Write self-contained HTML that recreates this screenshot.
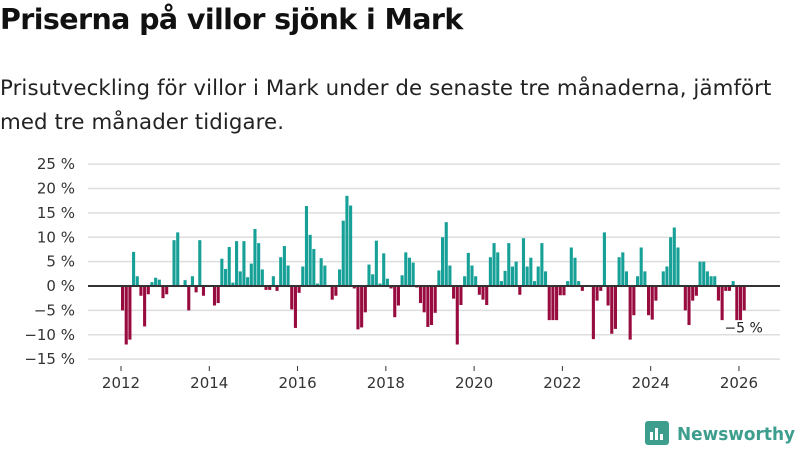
<!DOCTYPE html>
<html><head><meta charset="utf-8"><style>
body{margin:0;width:800px;height:450px;background:#fff;font-family:"Liberation Sans","DejaVu Sans",sans-serif;overflow:hidden;position:relative}
h1{position:absolute;left:0;top:3px;margin:0;font-size:28.5px;font-weight:bold;color:#111;font-family:"DejaVu Sans",sans-serif;letter-spacing:-0.6px}
p{position:absolute;left:0;top:72px;margin:0;font-size:21.3px;line-height:34px;color:#222;font-family:"DejaVu Sans",sans-serif;width:790px;letter-spacing:0.1px}
svg{position:absolute;left:0;top:0}
</style></head><body>
<h1>Priserna på villor sjönk i Mark</h1>
<p>Prisutveckling för villor i Mark under de senaste tre månaderna, jämfört med tre månader tidigare.</p>
<svg id="c" width="800" height="450"></svg>
<script>
const values=[-5,-12,-11,7,2,-2,-8.3,-1.7,0.8,1.7,1.3,-2.5,-1.7,0,9.4,11,0,1.2,-5,2,-1.3,9.4,-2,0,0,-4,-3.5,5.6,3.5,8,0.7,9.2,3,9.2,1.8,4.6,11.7,8.8,3.4,-0.8,-0.8,2,-1,5.9,8.2,4.2,-4.8,-8.6,-1.4,4,16.4,10.5,7.6,0.5,5.7,4.2,0,
-2.8,-2,3.4,13.4,18.5,16.5,-0.5,-8.9,-8.5,-5.4,4.4,2.4,9.3,0.5,6.7,1.5,-0.5,-6.4,-4,2.2,6.9,5.8,4.8,-0.3,-3.5,-5.4,-8.4,-8,-5.5,3.2,10,13.1,4.2,-2.6,-12,-3.9,2,6.8,4.2,2,-1.8,-2.8,-3.9,5.9,8.8,6.9,1,3.1,8.8,4,5,-1.8,9.8,4,5.8,1,4,
8.8,3,-7,-7,-7,-1.9,-1.9,1,7.9,5.8,1,-1,0,0,-10.9,-3,-1,11,-4,-9.8,-8.8,5.9,6.9,3,-11,-6,2,7.9,3,-6,-6.9,-3,0,3,4,10,12,7.9,0,-5,-8,-3,-2,5,5,3,2,2,-3,-7,-1,-1,1,-7,-7,-5];
const startYear=2012;
const yTicks=[-15,-10,-5,0,5,10,15,20,25];
const xTicks=[2012,2014,2016,2018,2020,2022,2024,2026];
const lastLabel="−5 %";
const NS="http://www.w3.org/2000/svg";
const svg=document.getElementById('c');
const y=v=>286-v*4.875;
const x=t=>121+(t-startYear)*44.14;
function mk(tag,attrs,parent){const e=document.createElementNS(NS,tag);for(const k in attrs)e.setAttribute(k,attrs[k]);(parent||svg).appendChild(e);return e;}
yTicks.forEach(v=>{
 const g=mk('line',{x1:88,x2:780,y1:y(v),y2:y(v),stroke:'#dedede','stroke-width':1.5});
 
 
 const t=mk('text',{x:75,y:y(v)+5,'text-anchor':'end','font-size':15,fill:'#333','font-family':'DejaVu Sans,sans-serif'});
 t.textContent=(v<0?'−'+(-v):v)+' %';
 
 
});
xTicks.forEach(v=>{
 const t=mk('text',{x:x(v),y:388,'text-anchor':'middle','font-size':15,fill:'#333','font-family':'DejaVu Sans,sans-serif'});
 t.textContent=v;
 
 
 const k=mk('line',{x1:x(v),x2:x(v),y1:366,y2:371,stroke:'#333','stroke-width':1});
 
 
});
values.forEach((v,i)=>{
 const t=startYear+i/12;
 const r=mk('rect',{x:x(t),width:3.1,y:Math.min(y(v),y(0)),height:Math.abs(y(v)-y(0)),fill:v>=0?'#16a097':'#980b3e'});
 
 
});
const z=mk('line',{x1:88,x2:780,y1:y(0),y2:y(0),stroke:'#333','stroke-width':2});


const lt=mk('text',{x:x(startYear+(values.length-1)/12)+1,y:y(values[values.length-1])+22,'text-anchor':'middle','font-size':14,fill:'#222','font-family':'DejaVu Sans,sans-serif'});
lt.textContent=lastLabel;


const lg=mk('g',{});


mk('rect',{x:645,y:421,width:24,height:24,rx:3,fill:'#3d9e8e'},lg);
mk('rect',{x:650,y:432,width:3,height:8,fill:'#fff'},lg);
mk('rect',{x:655,y:428,width:3,height:12,fill:'#fff'},lg);
mk('rect',{x:660,y:434,width:3,height:6,fill:'#fff'},lg);
const lt2=mk('text',{x:677,y:440,'font-size':18,'font-weight':'bold',fill:'#3d9e8e','font-family':'DejaVu Sans,sans-serif',textLength:118,lengthAdjust:'spacingAndGlyphs'},lg);
lt2.textContent='Newsworthy';
</script>
</body></html>
